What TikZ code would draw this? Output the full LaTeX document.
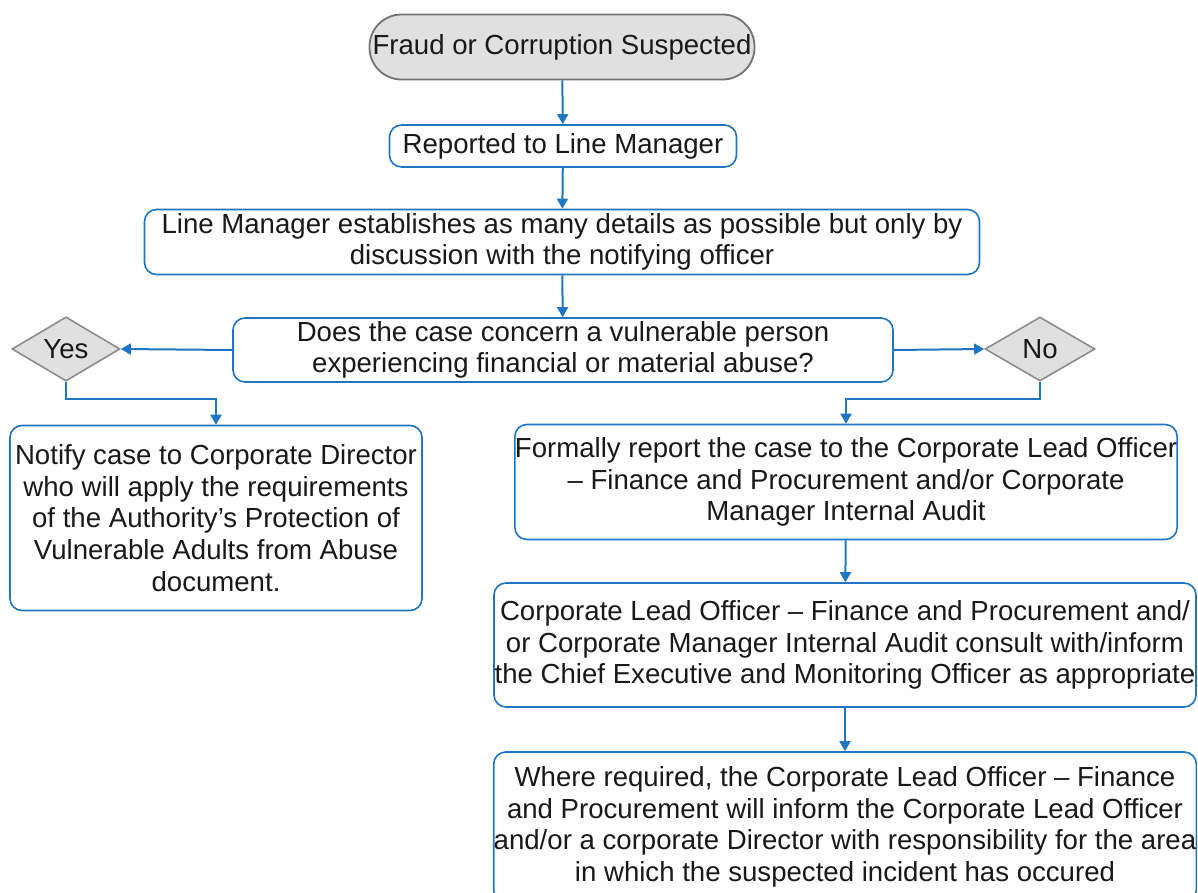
\documentclass[tikz,border=0pt]{standalone}
\usepackage{fontspec}
\setmainfont{Liberation Sans}
\usetikzlibrary{shapes.geometric,arrows.meta}
\definecolor{flowblue}{RGB}{31,117,196}
\definecolor{termfill}{RGB}{224,224,224}
\tikzset{
  every node/.style={font=\fontsize{13.8pt}{15.8pt}\selectfont, text=black!90, inner sep=0pt, align=center},
  stepbox/.style={draw=flowblue, line width=0.8pt, rounded corners=6pt, fill=white},
  terminal/.style={draw=black!55, line width=0.9pt, rounded corners=16pt, fill=termfill},
  choice/.style={diamond, draw=black!45, line width=0.8pt, fill=termfill},
  flow/.style={draw=flowblue, line width=1pt, -{Triangle[length=5pt,width=5.5pt]}}
}
\begin{document}
\begin{tikzpicture}[x=0.5pt,y=-0.5pt]
\useasboundingbox (0,0) rectangle (1198,893);
\clip (0,0) rectangle (1198,893);

\node[terminal, minimum width=192.5pt, minimum height=32.5pt] (start) at (562,47) {Fraud or Corruption Suspected};
\node[stepbox, minimum width=173.5pt, minimum height=21pt] (report) at (563,146) {Reported to Line Manager};
\node[stepbox, minimum width=417.5pt, minimum height=32.5pt] (details) at (562,242)
  {Line Manager establishes as many details as possible but only by\\discussion with the notifying officer};
\node[stepbox, minimum width=330pt, minimum height=32pt] (question) at (563,350)
  {Does the case concern a vulnerable person\\experiencing financial or material abuse?};
\node[choice, minimum width=54pt, minimum height=32pt] (yes) at (66,349) {Yes};
\node[choice, minimum width=55pt, minimum height=32pt] (no) at (1040,349) {No};
\node[stepbox, minimum width=206pt, minimum height=92.5pt] (notify) at (216,518)
  {Notify case to Corporate Director\\who will apply the requirements\\of the Authority’s Protection of\\Vulnerable Adults from Abuse\\document.};
\node[stepbox, minimum width=330.5pt, minimum height=57.5pt] (formal) at (846,482)
  {Formally report the case to the Corporate Lead Officer\\– Finance and Procurement and/or Corporate\\Manager Internal Audit};
\node[stepbox, minimum width=351pt, minimum height=62pt] (consult) at (845,645)
  {Corporate Lead Officer – Finance and Procurement and/\\or Corporate Manager Internal Audit consult with/inform\\the Chief Executive and Monitoring Officer as appropriate};
\node[stepbox, minimum width=351pt, minimum height=75pt] (inform) at (845,827)
  {Where required, the Corporate Lead Officer – Finance\\and Procurement will inform the Corporate Lead Officer\\and/or a corporate Director with responsibility for the area\\in which the suspected incident has occured};

\draw[flow] (start) -- (report);
\draw[flow] (report) -- (details);
\draw[flow] (details) -- (question);
\draw[flow] (question.west) -- (yes.east);
\draw[flow] (question.east) -- (no.west);
\draw[flow] (yes.south) -- ++(0,17) -| (notify.north);
\draw[flow] (no.south) -- ++(0,17) -| (formal.north);
\draw[flow] (formal) -- (consult);
\draw[flow] (consult) -- (inform);
\end{tikzpicture}
\end{document}
